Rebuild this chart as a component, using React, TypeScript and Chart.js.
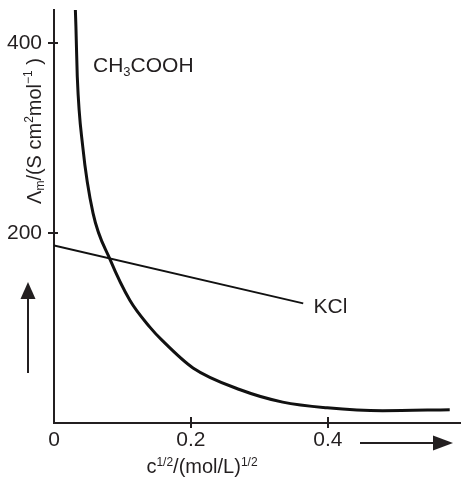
import React, { useEffect, useRef } from "react";
import { Chart, registerables } from "chart.js";

Chart.register(...registerables);

// Data
const acidC = [0.0305, 0.032, 0.034, 0.042, 0.057, 0.082, 0.111, 0.14, 0.158, 0.203, 0.272, 0.334, 0.399, 0.48, 0.578];
const acidLambda = [450, 418, 365, 291, 221, 172, 129, 101, 87, 58, 35, 22, 16, 13, 14];
const kclC = [0, 0.364];
const kclLambda = [187, 126];
const xTicks = [0, 0.2, 0.4];
const yTicks = [200, 400];
const xTickLabels = ["0", "0.2", "0.4"];
const yTickLabels = ["200", "400"];

const INK = "#231f20";
const FONT = "'Liberation Sans', Arial, Helvetica, sans-serif";

type Run = { t: string; size: number; dy: number };

function runsWidth(ctx: CanvasRenderingContext2D, runs: Run[]) {
  let w = 0;
  for (const r of runs) {
    ctx.font = `${r.size}px ${FONT}`;
    w += ctx.measureText(r.t).width;
  }
  return w;
}

function drawRuns(ctx: CanvasRenderingContext2D, runs: Run[], x: number, y: number) {
  let cx = x;
  ctx.textAlign = "left";
  ctx.textBaseline = "alphabetic";
  for (const r of runs) {
    ctx.font = `${r.size}px ${FONT}`;
    ctx.fillText(r.t, cx, y + r.dy);
    cx += ctx.measureText(r.t).width;
  }
}

const decorPlugin = {
  id: "decor",
  afterDraw(chart: any) {
    const ctx: CanvasRenderingContext2D = chart.ctx;
    const xs = chart.scales.x;
    const ys = chart.scales.y;
    const area = chart.chartArea;
    ctx.save();
    ctx.strokeStyle = INK;
    ctx.fillStyle = INK;
    ctx.lineWidth = 2;
    // tick marks crossing the axes
    for (const v of yTicks) {
      const py = Math.round(ys.getPixelForValue(v));
      ctx.beginPath();
      ctx.moveTo(area.left - 6, py);
      ctx.lineTo(area.left + 4, py);
      ctx.stroke();
    }
    for (const v of xTicks) {
      if (v === 0) continue;
      const px = Math.round(xs.getPixelForValue(v));
      ctx.beginPath();
      ctx.moveTo(px, area.bottom - 6);
      ctx.lineTo(px, area.bottom + 5);
      ctx.stroke();
    }

    // annotations
    const cLeft = xs.getPixelForValue(0.057);
    drawRuns(ctx, [
      { t: "CH", size: 21, dy: 0 },
      { t: "3", size: 13, dy: 4 },
      { t: "COOH", size: 21, dy: 0 },
    ], cLeft, ys.getPixelForValue(370));
    drawRuns(ctx, [{ t: "KCl", size: 21, dy: 0 }], xs.getPixelForValue(0.379), ys.getPixelForValue(116));

    // x axis title
    const xt: Run[] = [
      { t: "c", size: 20, dy: 0 },
      { t: "1/2", size: 12, dy: -7 },
      { t: "/(mol/L)", size: 20, dy: 0 },
      { t: "1/2", size: 12, dy: -7 },
    ];
    const xw = runsWidth(ctx, xt);
    drawRuns(ctx, xt, 202 - xw / 2, 473);

    // y axis title (rotated)
    const yt: Run[] = [
      { t: "\u039B", size: 20, dy: 0 },
      { t: "m", size: 12, dy: 3 },
      { t: "/(S cm", size: 20, dy: 0 },
      { t: "2", size: 12, dy: -8 },
      { t: "mol", size: 20, dy: 0 },
      { t: "\u22121", size: 12, dy: -9 },
      { t: " )", size: 20, dy: 0 },
    ];
    const yw = runsWidth(ctx, yt);
    ctx.save();
    ctx.translate(41, 131);
    ctx.rotate(-Math.PI / 2);
    drawRuns(ctx, yt, -yw / 2, 0);
    ctx.restore();

    // up arrow
    ctx.lineWidth = 2;
    ctx.beginPath();
    ctx.moveTo(28, 373);
    ctx.lineTo(28, 296);
    ctx.stroke();
    ctx.beginPath();
    ctx.moveTo(28, 282);
    ctx.lineTo(35.5, 299);
    ctx.lineTo(20.5, 299);
    ctx.closePath();
    ctx.fill();

    // right arrow
    ctx.beginPath();
    ctx.moveTo(360, 443);
    ctx.lineTo(438, 443);
    ctx.stroke();
    ctx.beginPath();
    ctx.moveTo(453, 443);
    ctx.lineTo(433, 435.5);
    ctx.lineTo(433, 450.5);
    ctx.closePath();
    ctx.fill();
    ctx.restore();
  },
};

export default function App() {
  const ref = useRef<HTMLCanvasElement | null>(null);
  useEffect(() => {
    if (!ref.current) return;
    const chart = new Chart(ref.current, {
      type: "scatter",
      data: {
        datasets: [
          {
            label: "CH3COOH",
            data: acidC.map((c, i) => ({ x: c, y: acidLambda[i] })),
            showLine: true,
            borderColor: "#111",
            borderWidth: 3,
            pointRadius: 0,
            cubicInterpolationMode: "monotone",
          },
          {
            label: "KCl",
            data: kclC.map((c, i) => ({ x: c, y: kclLambda[i] })),
            showLine: true,
            borderColor: "#111",
            borderWidth: 2,
            pointRadius: 0,
          },
        ],
      } as any,
      options: {
        animation: false,
        responsive: false,
        devicePixelRatio: 1,
        layout: { padding: { top: 10, right: 3, left: 0, bottom: 0 } },
        plugins: { legend: { display: false }, tooltip: { enabled: false } },
        scales: {
          x: {
            type: "linear",
            min: 0,
            max: 0.593,
            position: "bottom",
            grid: { display: false, tickLength: 0 },
            border: { display: true, color: INK, width: 2 },
            ticks: {
              color: INK,
              font: { size: 21, family: FONT },
              padding: 5,
              maxRotation: 0,
              callback: (v: any) => {
                const i = xTicks.indexOf(Number(v));
                return i >= 0 ? xTickLabels[i] : "";
              },
            },
            afterBuildTicks: (s: any) => {
              s.ticks = xTicks.map((v) => ({ value: v }));
            },
            afterFit: (s: any) => {
              s.height = 56;
              s.paddingLeft = 0;
              s.paddingRight = 0;
            },
          },
          y: {
            type: "linear",
            min: 0,
            max: 435,
            grid: { display: false, tickLength: 0 },
            border: { display: true, color: INK, width: 2 },
            ticks: {
              color: INK,
              font: { size: 21, family: FONT },
              padding: 12,
              callback: (v: any) => {
                const i = yTicks.indexOf(Number(v));
                return i >= 0 ? yTickLabels[i] : "";
              },
            },
            afterBuildTicks: (s: any) => {
              s.ticks = yTicks.map((v) => ({ value: v }));
            },
            afterFit: (s: any) => {
              s.width = 54;
              s.paddingTop = 0;
              s.paddingBottom = 0;
            },
          },
        },
      } as any,
      plugins: [decorPlugin],
    });
    return () => chart.destroy();
  }, []);
  return (
    <div style={{ position: "fixed", left: 0, top: 0, width: 463, height: 479, background: "#fff" }}>
      <canvas ref={ref} width={463} height={479} style={{ width: 463, height: 479 }} />
    </div>
  );
}
